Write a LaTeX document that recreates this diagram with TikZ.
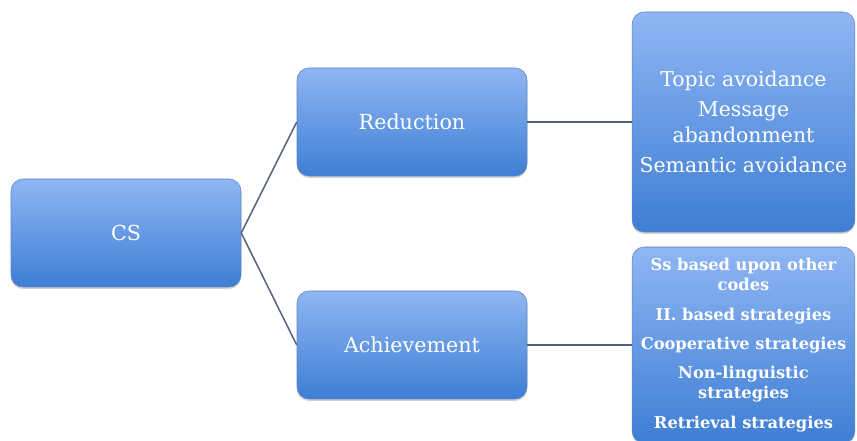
\documentclass[tikz,border=0pt]{standalone}
\usepackage{fontspec}
\setmainfont{DejaVu Serif}
\usepackage{xcolor}
\usepackage{tikz}
\usetikzlibrary{shadows}
\definecolor{BoxTop}{RGB}{143, 182, 244}
\definecolor{BoxBottom}{RGB}{62, 126, 212}
\definecolor{BoxEdge}{RGB}{96, 132, 190}
\definecolor{LinkGray}{RGB}{80, 96, 128}

\tikzset{
  cbox/.style={
    rounded corners=9pt,
    top color=BoxTop,
    bottom color=BoxBottom,
    draw=BoxEdge,
    line width=0.4pt,
    text=white,
    align=center,
    inner sep=0pt,
    drop shadow={opacity=0.35, shadow xshift=0pt, shadow yshift=-1.5pt}
  },
  link/.style={draw=LinkGray, line width=1.1pt}
}

\begin{document}
\begin{tikzpicture}[x=0.75pt, y=-0.75pt]
        \clip (0,0) rectangle (857,441);
        \fill[white] (0,0) rectangle (857,441);

        \node[cbox, minimum width=172.5pt, minimum height=81pt,
          font=\fontsize{15.5}{18}\selectfont] (cs) at (126,233) {CS};
        \node[cbox, minimum width=172.5pt, minimum height=81pt,
          font=\fontsize{15.5}{18}\selectfont] (reduction) at (412,122) {Reduction};
        \node[cbox, minimum width=172.5pt, minimum height=81pt,
          font=\fontsize{15.5}{18}\selectfont] (achievement) at (412,345) {Achievement};

        \node[cbox, minimum width=167pt, minimum height=165pt,
          font=\fontsize{15.3}{19}\selectfont] (reductionlist) at (743.5,122) {
          Topic avoidance\\[4pt]
          Message\\
          abandonment\\[4pt]
          Semantic avoidance
        };
        \node[cbox, minimum width=167pt, minimum height=147pt,
          font=\fontsize{12.2}{15}\selectfont\bfseries] (achievementlist) at (743.5,345) {
          Ss based upon other\\
          codes\\[7pt]
          II. based strategies\\[7pt]
          Cooperative strategies\\[7pt]
          Non-linguistic\\
          strategies\\[7pt]
          Retrieval strategies
        };

        \draw[link] (cs.east) -- (reduction.west);
        \draw[link] (cs.east) -- (achievement.west);
        \draw[link] (reduction.east) -- (reductionlist.west);
        \draw[link] (achievement.east) -- (achievementlist.west);
      \end{tikzpicture}
\end{document}
